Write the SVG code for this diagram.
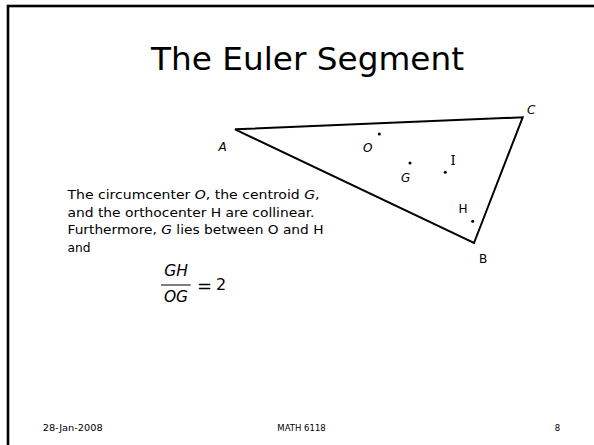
<svg xmlns="http://www.w3.org/2000/svg" width="594" height="445" viewBox="0 0 594 445">
<style>
text { font-family: "DejaVu Sans", "Liberation Sans", sans-serif; fill: #000; }
.body { font-size: 13px; }
.lbl { font-size: 12px; }
.it { font-style: italic; }
.foot { font-size: 8.5px; }
.dot { fill: #000; }
</style>
<rect x="0" y="0" width="594" height="445" fill="#fff"/>
<g id="frame">
<rect x="8" y="6" width="620" height="470" fill="none" stroke="#000" stroke-width="2.6"/>
</g>
<g id="title">
<text x="151" y="69.5" font-size="32" textLength="313" lengthAdjust="spacingAndGlyphs">The Euler Segment</text>
</g>
<g id="connectors">
<polygon points="235,129.3 522.7,117.3 474,243" fill="none" stroke="#000" stroke-width="2" stroke-linejoin="miter"/>
</g>
<g id="vertex-A"><text class="lbl it" x="218.5" y="151" font-size="10">A</text></g>
<g id="vertex-C"><text class="lbl it" x="527" y="114" font-size="10">C</text></g>
<g id="vertex-B"><text class="lbl" x="479" y="263.3">B</text></g>
<g id="point-O"><circle class="dot" cx="379.3" cy="134" r="1.5"/><text class="lbl it" x="363" y="151.7">O</text></g>
<g id="point-G"><circle class="dot" cx="410" cy="163" r="1.5"/><text class="lbl it" x="401" y="182.3">G</text></g>
<g id="point-I"><circle class="dot" cx="445.3" cy="172.3" r="1.5"/><text class="lbl" x="450.5" y="165.3" style="font-family: 'DejaVu Serif', serif; font-size: 13px;">I</text></g>
<g id="point-H"><circle class="dot" cx="472.7" cy="221.3" r="1.5"/><text class="lbl" x="458.5" y="213.3">H</text></g>
<g id="statement">
<text class="body" x="67.5" y="199" textLength="252" lengthAdjust="spacingAndGlyphs">The circumcenter <tspan class="it">O</tspan>, the centroid <tspan class="it">G</tspan>,</text>
<text class="body" x="67.5" y="216.5" textLength="247" lengthAdjust="spacingAndGlyphs">and the orthocenter H are collinear.</text>
<text class="body" x="67.5" y="234" textLength="256" lengthAdjust="spacingAndGlyphs">Furthermore, <tspan class="it">G</tspan> lies between O and H</text>
<text class="body" x="67.5" y="251.5" textLength="23" lengthAdjust="spacingAndGlyphs">and</text>
</g>
<g id="equation">
<text x="176" y="275.7" font-size="15.5" text-anchor="middle" class="it">GH</text>
<line x1="161" y1="285" x2="190.7" y2="285" stroke="#000" stroke-width="1"/>
<text x="176" y="301.7" font-size="15.5" text-anchor="middle" class="it">OG</text>
<text x="197" y="291.5" font-size="18">=</text>
<text x="216" y="290" font-size="16">2</text>
</g>
<g id="footer">
<text class="foot" x="42.7" y="431" textLength="60" lengthAdjust="spacingAndGlyphs">28-Jan-2008</text>
<text class="foot" x="301.5" y="431" text-anchor="middle">MATH 6118</text>
<text class="foot" x="557.5" y="431" text-anchor="middle">8</text>
</g>
</svg>
